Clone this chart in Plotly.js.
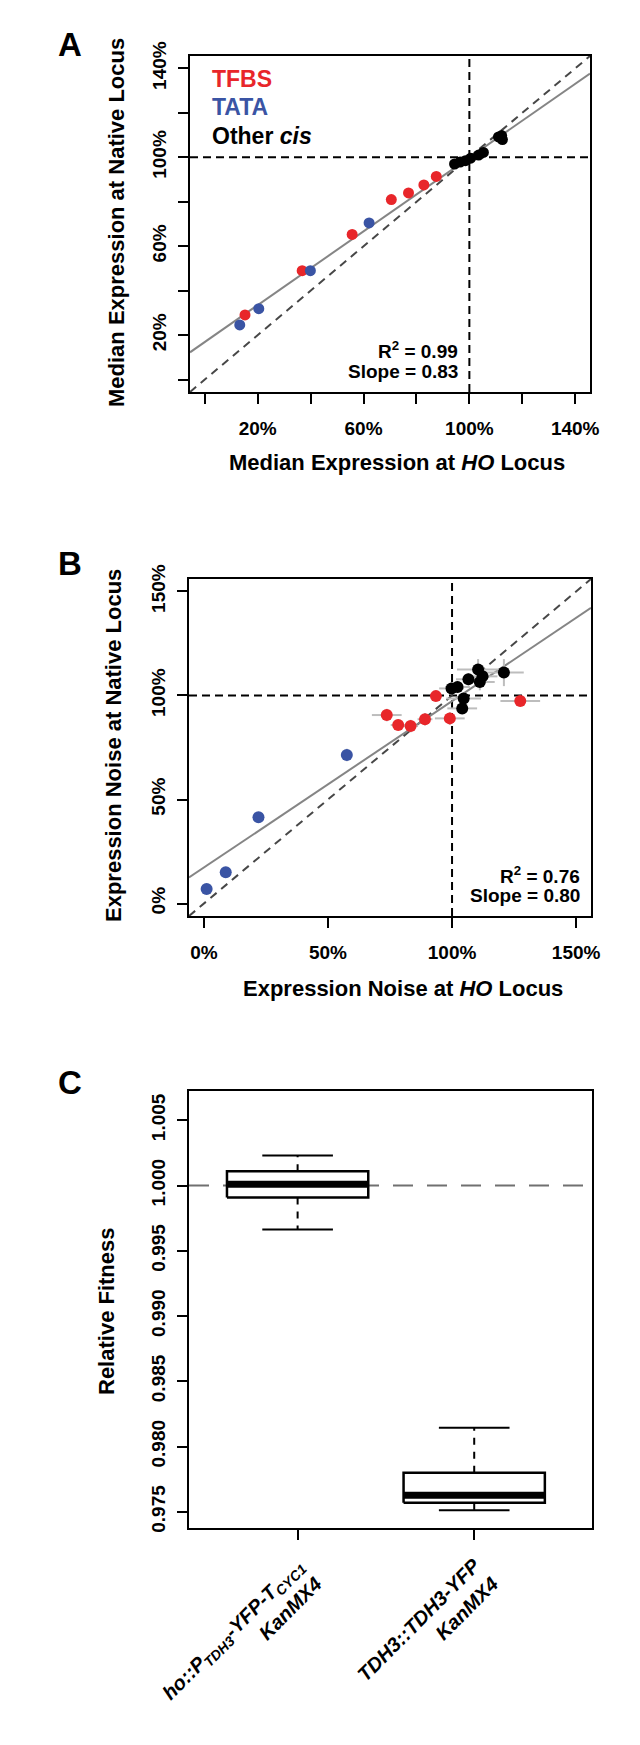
<!DOCTYPE html>
<html>
<head>
<meta charset="utf-8">
<script src="https://cdn.plot.ly/plotly-3.0.1.min.js"></script>
<style>
  body { margin: 0; background: #fff; }
  #chart { width: 640px; height: 1745px; }
</style>
</head>
<body>
<div id="chart"></div>
<script>
/* ---------------- data ---------------- */

// panel A: median expression (% of wild type), HO locus vs native locus
var aRedX = [15.2, 36.8, 55.7, 70.5, 77.0, 82.8, 87.5];
var aRedY = [29.1, 49.0, 65.3, 81.0, 84.0, 87.6, 91.4];
var aBlueX = [13.2, 20.4, 39.9, 62.1];
var aBlueY = [24.6, 31.9, 49.0, 70.5];
var aBlackX = [94.4, 96.5, 98.5, 100.5, 103.5, 105.3, 111.0, 112.5, 112.2];
var aBlackY = [97.0, 97.9, 98.5, 99.6, 101.0, 102.2, 109.2, 108.0, 109.8];

// panel B: expression noise (% of wild type) with error bars
var bRedX = [73.7, 78.3, 83.3, 89.1, 93.5, 99.1, 127.5];
var bRedY = [90.6, 85.8, 85.3, 88.6, 99.7, 89.0, 97.3];
var bRedEx = [6, 3, 3, 3, 2, 6, 8];
var bRedEy = [3, 2.5, 3, 3, 1.5, 3, 1];
var bBlueX = [1.1, 8.8, 22.0, 57.6];
var bBlueY = [7.0, 15.0, 41.5, 71.4];
var bBlueEx = [1, 1, 2, 1];
var bBlueEy = [1, 1, 1, 3];
var bBlackX = [99.8, 102.2, 106.6, 110.5, 112.3, 111.2, 120.9, 104.7, 104.1];
var bBlackY = [103.4, 104.1, 107.8, 112.5, 109.2, 106.5, 111.0, 98.6, 93.8];
var bBlackEx = [5, 5, 5, 8.5, 6, 6, 8, 7, 6];
var bBlackEy = [3, 3, 3, 5, 5, 4, 6.5, 3, 2];

// regression fits (A, B)
var fitIntercept = [16.9, 17.3];
var fitSlope = [0.83, 0.80];
var fitR2 = ['0.99', '0.76'];
var fitSlopeText = ['0.83', '0.80'];

// panel C: relative fitness box plots
var strainLabels = [
  '<i>ho::P<sub>TDH3</sub>-YFP-T<sub>CYC1</sub></i><br><i>KanMX4</i>',
  '<i>TDH3::TDH3-YFP</i><br><i>KanMX4</i>'
];
var fitLow = [0.99662, 0.97512];
var fitQ1 = [0.99908, 0.97569];
var fitMed = [1.0001, 0.97627];
var fitQ3 = [1.0011, 0.97800];
var fitHigh = [1.00229, 0.98145];

// labelled ticks (unlabelled ones every 20% in A are drawn as minor ticks)
var pctTicksA = [20, 60, 100, 140];
var pctLabelsA = ['20%', '60%', '100%', '140%'];
var pctTicksB = [0, 50, 100, 150];
var pctLabelsB = ['0%', '50%', '100%', '150%'];
var fitTicks = [0.975, 0.980, 0.985, 0.990, 0.995, 1.000, 1.005];
var fitTickLabels = ['0.975', '0.980', '0.985', '0.990', '0.995', '1.000', '1.005'];

/* ---------------- setup ---------------- */
var FONT = 'Liberation Sans, Arial, Helvetica, sans-serif';
var RED = 'rgb(232, 38, 42)';
var BLUE = 'rgb(58, 84, 164)';
var rangeA = [-5.6, 145.6];
var rangeB = [-6, 156];
var rangeCx = [0.385, 2.667];
var rangeCy = [0.97376, 1.00724];

var W = 640, H = 1745;
function px(x) { return x / W; }
function py(y) { return 1 - y / H; }

function axis(extra) {
    var base = {
        showline: true, mirror: true, linecolor: 'black', linewidth: 2,
        ticks: 'outside', ticklen: 10, tickwidth: 2, tickcolor: 'black',
        showgrid: false, zeroline: false, fixedrange: true,
        tickfont: {family: FONT, size: 19, color: 'black', weight: 'bold'}
    };
    for (var k in extra) base[k] = extra[k];
    return base;
}

var minorA = {tick0: 0, dtick: 20, ticks: 'outside', ticklen: 10, tickwidth: 2,
    tickcolor: 'black', showgrid: false};

function line(xs, ys, xa, ya, color, width, dash) {
    return {
        x: xs, y: ys, xaxis: xa, yaxis: ya, type: 'scatter', mode: 'lines',
        line: {color: color, width: width, dash: dash || 'solid'},
        hoverinfo: 'skip', showlegend: false
    };
}

function dots(xs, ys, xa, ya, color, size, name, ex, ey) {
    var t = {
        x: xs, y: ys, xaxis: xa, yaxis: ya, type: 'scatter', mode: 'markers',
        name: name, marker: {color: color, size: size}, showlegend: false
    };
    if (ex) t.error_x = {type: 'data', array: ex, color: '#bdbdbd', thickness: 2, width: 0};
    if (ey) t.error_y = {type: 'data', array: ey, color: '#bdbdbd', thickness: 2, width: 0};
    return t;
}

var data = [];

//reference lines + fits for A and B
[['x', 'y', rangeA, 0], ['x2', 'y2', rangeB, 1]].forEach(function (p) {
    var r = p[2], i = p[3];
    data.push(line([100, 100], r, p[0], p[1], 'black', 2, '8px,5px'));
    data.push(line(r, [100, 100], p[0], p[1], 'black', 2, '8px,5px'));
    data.push(line(r, r, p[0], p[1], '#474747', 2, '8px,6px'));
    data.push(line(r, [fitIntercept[i] + fitSlope[i] * r[0], fitIntercept[i] + fitSlope[i] * r[1]],
        p[0], p[1], '#858585', 2));
});

// panel A points
data.push(dots(aRedX, aRedY, 'x', 'y', RED, 11, 'TFBS'));
data.push(dots(aBlueX, aBlueY, 'x', 'y', BLUE, 11, 'TATA'));
data.push(dots(aBlackX, aBlackY, 'x', 'y', 'black', 11, 'Other cis'));

// panel B points
data.push(dots(bBlueX, bBlueY, 'x2', 'y2', BLUE, 12, 'TATA', bBlueEx, bBlueEy));
data.push(dots(bRedX, bRedY, 'x2', 'y2', RED, 12, 'TFBS', bRedEx, bRedEy));
data.push(dots(bBlackX, bBlackY, 'x2', 'y2', 'black', 12, 'Other cis', bBlackEx, bBlackEy));

// panel C: dashed reference at 1.000, then boxes
data.push(line(rangeCx, [1, 1], 'x3', 'y3', '#707070', 2, '20px,14px'));
for (var i = 0; i < fitMed.length; i++) {
    var p = i + 1;
    data.push(line([p, p], [fitQ3[i], fitHigh[i]], 'x3', 'y3', 'black', 2, '7px,7px'));
    data.push(line([p, p], [fitQ1[i], fitLow[i]], 'x3', 'y3', 'black', 2, '7px,7px'));
    data.push(line([p - 0.2, p + 0.2], [fitHigh[i], fitHigh[i]], 'x3', 'y3', 'black', 2));
    data.push(line([p - 0.2, p + 0.2], [fitLow[i], fitLow[i]], 'x3', 'y3', 'black', 2));
    var box = line([p - 0.4, p + 0.4, p + 0.4, p - 0.4, p - 0.4],
        [fitQ1[i], fitQ1[i], fitQ3[i], fitQ3[i], fitQ1[i]], 'x3', 'y3', 'black', 2.5);
    box.fill = 'toself';
    box.fillcolor = 'white';
    data.push(box);
    data.push(line([p - 0.4, p + 0.4], [fitMed[i], fitMed[i]], 'x3', 'y3', 'black', 7));
}

/* ---------------- annotations ---------------- */
function txt(text, x, y, size, opts) {
    var a = {
        text: text, x: px(x), y: py(y), xref: 'paper', yref: 'paper',
        showarrow: false, xanchor: 'center', yanchor: 'middle',
        font: {family: FONT, size: size, color: 'black', weight: 'bold'}
    };
    for (var k in (opts || {})) a[k] = opts[k];
    return a;
}

var annotations = [
    txt('A', 70, 45, 33),
    txt('B', 70, 563, 33),
    txt('C', 70, 1082, 33),
    // legend
    txt('TFBS', 210, 79, 23, {xanchor: 'left', font: {family: FONT, size: 23, color: RED, weight: 'bold'}}),
    txt('TATA', 210, 107, 23, {xanchor: 'left', font: {family: FONT, size: 23, color: BLUE, weight: 'bold'}}),
    txt('Other <i>cis</i>', 210, 136, 23, {xanchor: 'left'}),
    // fit stats
    txt('R<sup>2</sup> = ' + fitR2[0], 460, 350, 19, {xanchor: 'right'}),
    txt('Slope = ' + fitSlopeText[0], 460, 371, 19, {xanchor: 'right'}),
    txt('R<sup>2</sup> = ' + fitR2[1], 582, 875, 19, {xanchor: 'right'}),
    txt('Slope = ' + fitSlopeText[1], 582, 896, 19, {xanchor: 'right'}),
    // axis titles
    txt('Median Expression at <i>HO</i> Locus', 397, 463, 22),
    txt('Median Expression at Native Locus', 116, 223, 22, {textangle: -90}),
    txt('Expression Noise at <i>HO</i> Locus', 403, 988, 22),
    txt('Expression Noise at Native Locus', 113, 746, 22, {textangle: -90}),
    txt('Relative Fitness', 106, 1311, 22, {textangle: -90})
];

var layout = {
    width: W, height: H,
    margin: {l: 0, r: 0, t: 0, b: 0},
    paper_bgcolor: 'white', plot_bgcolor: 'white',
    showlegend: false,
    xaxis: axis({domain: [px(190), px(590)], range: rangeA, tickvals: pctTicksA, ticktext: pctLabelsA,
        anchor: 'y', ticklabelstandoff: 8, minor: minorA}),
    yaxis: axis({domain: [py(392), py(56)], range: rangeA, tickvals: pctTicksA, ticktext: pctLabelsA,
        anchor: 'x', tickangle: -90, ticklabelstandoff: 4, minor: minorA}),
    xaxis2: axis({domain: [px(189), px(591)], range: rangeB, tickvals: pctTicksB, ticktext: pctLabelsB,
        anchor: 'y2', ticklabelstandoff: 8}),
    yaxis2: axis({domain: [py(916), py(579)], range: rangeB, tickvals: pctTicksB, ticktext: pctLabelsB,
        anchor: 'x2', tickangle: -90, ticklabelstandoff: 4}),
    xaxis3: axis({domain: [px(189), px(592)], range: rangeCx, tickvals: [1, 2], ticktext: strainLabels,
        anchor: 'y3', tickangle: -45, ticklabelstandoff: 6,
        tickfont: {family: FONT, size: 20, color: 'black', weight: 'bold'}}),
    yaxis3: axis({domain: [py(1528), py(1091)], range: rangeCy, tickvals: fitTicks, ticktext: fitTickLabels,
        anchor: 'x3', tickangle: -90, ticklabelstandoff: 4}),
    annotations: annotations
};

Plotly.newPlot('chart', data, layout, {displayModeBar: false, staticPlot: true});
</script>
</body>
</html>
